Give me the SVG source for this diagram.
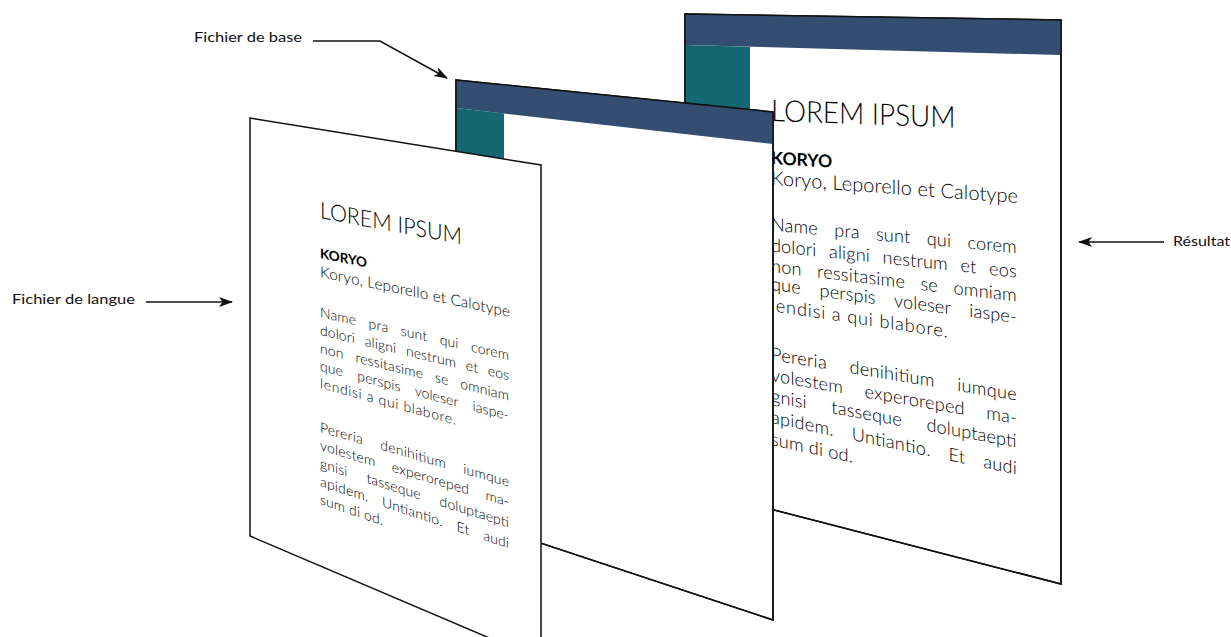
<svg xmlns="http://www.w3.org/2000/svg" width="1231" height="637" viewBox="0 0 1231 637">
  <style>
    .page { fill: #ffffff; stroke: #111111; stroke-width: 1.5; stroke-linejoin: miter; }
    .band { fill: #344e71; }
    .teal { fill: #156771; }
    .txt { font-family: Lato, "Open Sans", "Liberation Sans", sans-serif; fill: #000000; }
    .title { font-size: 23px; font-weight: 300; }
    .kor { font-size: 13.5px; font-weight: 700; }
    .sub { font-size: 15.3px; font-weight: 300; }
    .body { font-size: 14px; font-weight: 300; }
    .label { font-family: Lato, "Open Sans", "Liberation Sans", sans-serif; font-size: 14px; fill: #111111; }
    .conn { fill: none; stroke: #111111; stroke-width: 1.5; }
  </style>
  <defs>
    <marker id="arrow" markerUnits="userSpaceOnUse" markerWidth="14" markerHeight="10" refX="13" refY="5" orient="auto">
      <path d="M0,0 L14,5 L0,10 L3.5,5 Z" fill="#111111"/>
    </marker>
  </defs>
  <rect width="1231" height="637" fill="#ffffff"/>

  <!-- Résultat page (back) -->
  <g id="page-resultat">
    <polygon class="page" points="685,14 1061,20 1061,584 685,487"/>
    <polygon class="band" points="685,14 1060,20 1060,55 685,45"/>
    <polygon class="teal" points="685,45 750,46.7 750,200 685,200"/>
    <g class="txt">
      <text class="title" transform="matrix(1.3,0.046,0,1.3,771,121)" textLength="142" lengthAdjust="spacingAndGlyphs">LOREM IPSUM</text>
      <text class="kor" transform="matrix(1.3,0.078,0,1.3,771,164)" textLength="47" lengthAdjust="spacingAndGlyphs">KORYO</text>
      <text class="sub" transform="matrix(1.3,0.095,0,1.3,771,185)" textLength="190" lengthAdjust="spacing">Koryo, Leporello et Calotype</text>
      <text class="body" transform="matrix(1.3,0.120,0,1.3,771,230.5)" textLength="189" lengthAdjust="spacing" word-spacing="8.5">Name pra sunt qui corem</text>
      <text class="body" transform="matrix(1.3,0.138,0,1.3,771,251.5)" textLength="189" lengthAdjust="spacing" word-spacing="5.9">dolori aligni nestrum et eos</text>
      <text class="body" transform="matrix(1.3,0.156,0,1.3,771,272)" textLength="189" lengthAdjust="spacing" word-spacing="7.9">non ressitasime se omniam</text>
      <text class="body" transform="matrix(1.3,0.176,0,1.3,771,290)" textLength="189" lengthAdjust="spacing" word-spacing="10.6">que perspis voleser iaspe-</text>
      <text class="body" transform="matrix(1.3,0.195,0,1.3,771,311)" textLength="136" lengthAdjust="spacing">lendisi a qui blabore.</text>
      <text class="body" transform="matrix(1.3,0.215,0,1.3,771,360)" textLength="189" lengthAdjust="spacing" word-spacing="13.3">Pereria denihitium iumque</text>
      <text class="body" transform="matrix(1.3,0.228,0,1.3,771,381)" textLength="189" lengthAdjust="spacing" word-spacing="12.5">volestem experoreped ma-</text>
      <text class="body" transform="matrix(1.3,0.241,0,1.3,771,402)" textLength="189" lengthAdjust="spacing" word-spacing="15.1">gnisi tasseque doluptaepti</text>
      <text class="body" transform="matrix(1.3,0.273,0,1.3,771,423)" textLength="189" lengthAdjust="spacing" word-spacing="9.8">apidem. Untiantio. Et audi</text>
      <text class="body" transform="matrix(1.3,0.286,0,1.3,771,445)" textLength="63" lengthAdjust="spacing">sum di od.</text>
    </g>
    <polygon points="685,14 1061,20 1061,584 685,487" fill="none" stroke="#111111" stroke-width="1.5"/>
  </g>

  <!-- Fichier de base page (middle) -->
  <g id="page-base">
    <polygon class="page" points="456,80 773,112 773,620 456,515"/>
    <polygon class="band" points="456,80 773,112 773,144 456,108"/>
    <polygon class="teal" points="456,108 504,113.5 504,300 456,300"/>
    <polygon points="456,80 773,112 773,620 456,515" fill="none" stroke="#111111" stroke-width="1.5"/>
  </g>

  <!-- Fichier de langue page (front) -->
  <g id="page-langue">
    <polygon class="page" points="250,118 541,165 541,660 250,536"/>
    <g class="txt">
      <text class="title" transform="matrix(1,0.185,0,1,320,218)" textLength="142" lengthAdjust="spacingAndGlyphs">LOREM IPSUM</text>
      <text class="kor" transform="matrix(1,0.2,0,1,320,258)" textLength="47" lengthAdjust="spacingAndGlyphs">KORYO</text>
      <text class="sub" transform="matrix(1,0.21,0,1,320,277)" textLength="190" lengthAdjust="spacing">Koryo, Leporello et Calotype</text>
      <text class="body" transform="matrix(1,0.228,0,1,320,317)" textLength="189" lengthAdjust="spacing" word-spacing="8.5">Name pra sunt qui corem</text>
      <text class="body" transform="matrix(1,0.24,0,1,320,335)" textLength="189" lengthAdjust="spacing" word-spacing="5.9">dolori aligni nestrum et eos</text>
      <text class="body" transform="matrix(1,0.252,0,1,320,353)" textLength="189" lengthAdjust="spacing" word-spacing="7.9">non ressitasime se omniam</text>
      <text class="body" transform="matrix(1,0.264,0,1,320,370.5)" textLength="189" lengthAdjust="spacing" word-spacing="10.6">que perspis voleser iaspe-</text>
      <text class="body" transform="matrix(1,0.272,0,1,320,388)" textLength="136" lengthAdjust="spacing">lendisi a qui blabore.</text>
      <text class="body" transform="matrix(1,0.29,0,1,320,432)" textLength="189" lengthAdjust="spacing" word-spacing="13.3">Pereria denihitium iumque</text>
      <text class="body" transform="matrix(1,0.30,0,1,320,450)" textLength="189" lengthAdjust="spacing" word-spacing="12.5">volestem experoreped ma-</text>
      <text class="body" transform="matrix(1,0.315,0,1,320,468)" textLength="189" lengthAdjust="spacing" word-spacing="15.1">gnisi tasseque doluptaepti</text>
      <text class="body" transform="matrix(1,0.33,0,1,320,486)" textLength="189" lengthAdjust="spacing" word-spacing="9.8">apidem. Untiantio. Et audi</text>
      <text class="body" transform="matrix(1,0.34,0,1,320,504)" textLength="63" lengthAdjust="spacing">sum di od.</text>
    </g>
  </g>

  <!-- Labels -->
  <g id="label-base"><text class="label" x="194" y="42" textLength="108" lengthAdjust="spacingAndGlyphs">Fichier de base</text></g>
  <g id="label-langue"><text class="label" x="12" y="304" textLength="123" lengthAdjust="spacingAndGlyphs">Fichier de langue</text></g>
  <g id="label-resultat"><text class="label" x="1173" y="246" textLength="57" lengthAdjust="spacingAndGlyphs">Résultat</text></g>

  <!-- Connectors -->
  <g id="connectors">
    <path class="conn" d="M313,41 H380 L447,78" marker-end="url(#arrow)"/>
    <path class="conn" d="M146,302 H232" marker-end="url(#arrow)"/>
    <path class="conn" d="M1164,242 H1079" marker-end="url(#arrow)"/>
  </g>
</svg>
